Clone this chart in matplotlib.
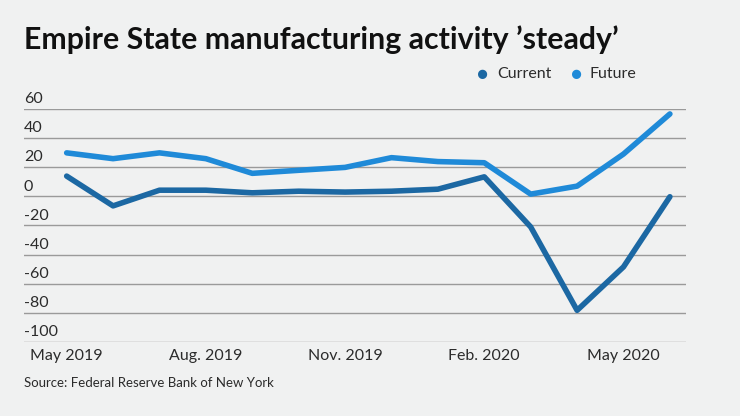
import matplotlib.pyplot as plt
import matplotlib.transforms as mtransforms

plt.rcParams['font.family'] = ['Lato', 'DejaVu Sans']

BG = '#f0f1f1'
CURRENT_COLOR = '#1c68a3'
FUTURE_COLOR = '#1f8ad8'

# Monthly readings, May 2019 .. June 2020
months = ['May 2019', 'Jun 2019', 'Jul 2019', 'Aug. 2019', 'Sep 2019', 'Oct 2019',
          'Nov. 2019', 'Dec 2019', 'Jan 2020', 'Feb. 2020', 'Mar 2020', 'Apr 2020',
          'May 2020', 'Jun 2020']
current = [14, -6.5, 4.3, 4.3, 2.5, 3.6, 3.0, 3.6, 5.0, 13.5, -21.0, -78.4, -48.5, -0.2]
future = [30, 26, 30, 26, 15.9, 18, 20, 26.7, 24, 23.2, 1.6, 7.1, 29.2, 56.8]
tick_idx = [0, 3, 6, 9, 12]
yticks = [60, 40, 20, 0, -20, -40, -60, -80, -100]

fig = plt.figure(figsize=(7.4, 4.16), dpi=100, facecolor=BG)
ax = fig.add_axes([0.0324, 0.1786, 0.8942, 0.5587], facecolor=BG)

x = list(range(len(months)))
ax.plot(x, current, color=CURRENT_COLOR, lw=4, solid_capstyle='round', clip_on=False, zorder=3)
ax.plot(x, future, color=FUTURE_COLOR, lw=4, solid_capstyle='round', clip_on=False, zorder=3)

ax.set_xlim(-0.92, 13.34)
ax.set_ylim(-100, 60)

for v in yticks:
    ax.axhline(v, color='#9a9a9a', lw=1, zorder=1)

trans = mtransforms.blended_transform_factory(ax.transAxes, ax.transData)
for v in yticks:
    ax.text(0, v + 2.0, str(v), transform=trans, ha='left', va='bottom',
            fontsize=11.5, color='#2b2b2b')

ax.set_yticks([])
ax.set_xticks(tick_idx)
ax.set_xticklabels([months[i] for i in tick_idx], fontsize=11.5, color='#2b2b2b')
ax.tick_params(axis='x', length=0, pad=5)
for s in ax.spines.values():
    s.set_visible(False)

fig.text(0.0324, 0.905, "Empire State manufacturing activity \u2019steady\u2019",
         fontsize=21.8, fontweight='bold', color='#111111', ha='left', va='center')

# legend
fig.text(0.6527, 0.822, '\u25cf', color=CURRENT_COLOR, fontsize=13.5, ha='center', va='center')
fig.text(0.672, 0.822, 'Current', color='#2b2b2b', fontsize=11.5, ha='left', va='center')
fig.text(0.7797, 0.822, '\u25cf', color=FUTURE_COLOR, fontsize=13.5, ha='center', va='center')
fig.text(0.797, 0.822, 'Future', color='#2b2b2b', fontsize=11.5, ha='left', va='center')

fig.text(0.0324, 0.08, 'Source: Federal Reserve Bank of New York',
         fontsize=9.5, color='#2b2b2b', ha='left', va='center')

fig.savefig('out.png', dpi=100, facecolor=BG)
